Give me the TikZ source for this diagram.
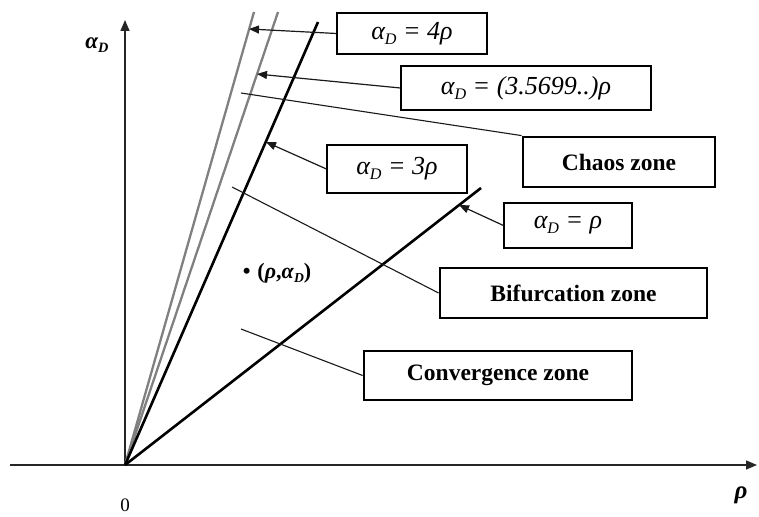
\documentclass[tikz,border=0pt]{standalone}
\usepackage{fontspec}
\setmainfont{Liberation Serif}
\usetikzlibrary{arrows.meta}
\newcommand\lowsub[1]{\raisebox{-0.4ex}{\scalebox{0.62}{#1}}}
\begin{document}
\begin{tikzpicture}[x=1bp,y=-1bp,
  axisline/.style={line width=1.5bp, black!85, -{Triangle[length=11bp,width=9bp]}},
  grayray/.style={line width=2.3bp, black!50},
  blackray/.style={line width=2.6bp, black},
  leader/.style={line width=1.1bp, black!90},
  pointer/.style={line width=1.2bp, black!90, -{Triangle[length=10bp,width=8bp]}},
  mathbox/.style={draw, line width=1.2bp, inner sep=0pt, font=\fontsize{26bp}{29bp}\selectfont\itshape},
  zonebox/.style={draw, line width=2.8bp, inner sep=0pt, font=\fontsize{23.5bp}{27bp}\selectfont\bfseries},
  plainlbl/.style={inner sep=0pt}
]
\useasboundingbox (0,0) rectangle (759,517);
% axes
\coordinate (O) at (125,465);
\coordinate (xL) at (10,465);
\coordinate (xR) at (757,465);
\coordinate (yT) at (125,20);
\draw[axisline] (xL) -- (xR);
\draw[axisline] (O) -- (yT);
% rays
\coordinate (T4) at (254,12);
\coordinate (T35) at (278,12);
\coordinate (T3) at (318,22);
\coordinate (T1) at (481,188);
\draw[grayray] (O) -- (T4);
\draw[grayray] (O) -- (T35);
\draw[blackray] (O) -- (T3);
\draw[blackray] (O) -- (T1);
% points on rays
\coordinate (a4) at (249,29);
\coordinate (a35) at (257,74);
\coordinate (a3) at (266,142);
\coordinate (a1) at (459,205);
\coordinate (sChaos) at (241,93);
\coordinate (sBif) at (232,187);
\coordinate (sConv) at (241,329);
% boxes
\node[mathbox, minimum width=150bp, minimum height=41bp] (n4) at (412,33.5) {α\lowsub{D} = 4ρ};
\node[mathbox, minimum width=250bp, minimum height=44bp] (n35) at (526,88) {α\lowsub{D} = (3.5699..)ρ};
\node[mathbox, minimum width=140bp, minimum height=48bp] (n3) at (397,169) {α\lowsub{D} = 3ρ};
\node[mathbox, minimum width=128bp, minimum height=45bp] (n1) at (568,225.5) {α\lowsub{D} = ρ};
\node[zonebox, minimum width=192bp, minimum height=50bp] (chaos) at (619,162) {Chaos zone};
\node[zonebox, minimum width=267bp, minimum height=50bp] (bif) at (573.5,293) {Bifurcation zone};
\node[zonebox, minimum width=268bp, minimum height=49bp] (conv) at (498,375.5) {Convergence zone};
% pointers
\draw[pointer] (n4.west) -- (a4);
\draw[pointer] (n35.west) -- (a35);
\draw[pointer] (n3.west) -- (a3);
\draw[pointer] (n1.west) -- (a1);
% zone leaders
\draw[leader] (sChaos) -- (chaos.north west);
\draw[leader] (sBif) -- (bif.west);
\draw[leader] (sConv) -- (conv.west);
% labels
\node[plainlbl, font=\fontsize{22bp}{26bp}\selectfont\bfseries] (pt) at (277,273) {•\hspace{7bp}(\textit{ρ},\textit{α}\lowsub{\textit{D}})};
\node[plainlbl, font=\fontsize{23bp}{26bp}\selectfont\bfseries\itshape] (lblA) at (97,45) {α\lowsub{D}};
\node[plainlbl, font=\fontsize{25bp}{28bp}\selectfont\bfseries\itshape] (lblR) at (741,495) {ρ};
\node[plainlbl, font=\fontsize{19bp}{22bp}\selectfont] (lbl0) at (125,505) {0};
\end{tikzpicture}
\end{document}
